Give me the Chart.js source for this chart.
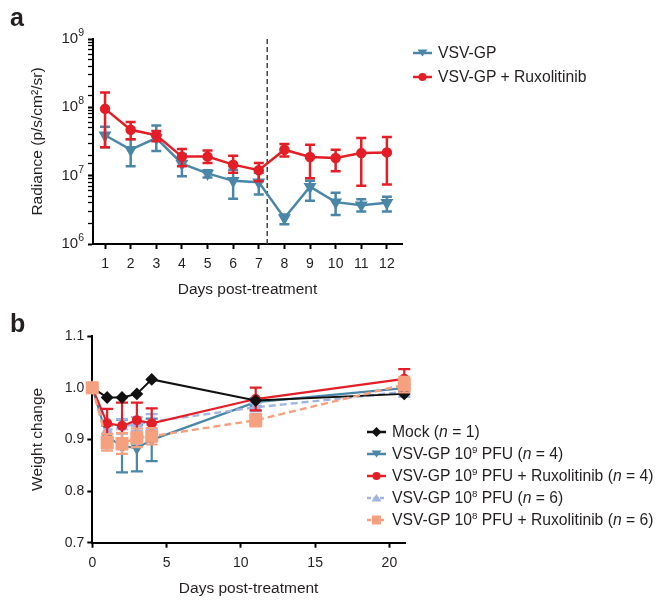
<!DOCTYPE html>
<html>
<head>
<meta charset="utf-8">
<script src="https://cdn.jsdelivr.net/npm/chart.js@4.4.1/dist/chart.umd.min.js"></script>
<style>
  body { margin: 0; background: #fff; font-family: "Liberation Sans", Arial, sans-serif; color: #231f20; }
  #wrap { position: relative; width: 663px; height: 601px; overflow: hidden; }
  canvas { position: absolute; left: 0; }
  .panel { position: absolute; left: 10px; font-weight: bold; font-size: 25px; }
  .legend { position: absolute; font-size: 15.7px; }
  .legend div { white-space: nowrap; display: flex; align-items: center; }
  .legend svg { margin-right: 6px; flex: none; }
  sup { font-size: 0.62em; line-height: 0; vertical-align: 0.62em; }
</style>
</head>
<body>
<div id="wrap">
  <canvas id="chartA" width="420" height="300" style="top:0"></canvas>
  <canvas id="chartB" width="420" height="301" style="top:300px"></canvas>
  <div class="panel" style="top:3px">a</div>
  <div class="panel" style="top:309px">b</div>
  <div class="legend" id="legendA" style="left:413px; top:41px"></div>
  <div class="legend" id="legendB" style="left:367px; top:421px"></div>
</div>
<script>
// ---- panel a : radiance (log scale) ----
const daysA = [1, 2, 3, 4, 5, 6, 7, 8, 9, 10, 11, 12]
const vsvMean = [3.9e7, 2.4e7, 3.55e7, 1.5e7, 1.08e7, 8.4e6, 8.0e6, 2.4e6, 6.9e6, 4.1e6, 3.7e6, 4.0e6]
const vsvLow = [2.6e7, 1.37e7, 2.3e7, 9.8e6, 9.4e6, 4.6e6, 5.3e6, 1.95e6, 4.3e6, 2.65e6, 3.0e6, 3.0e6]
const vsvHigh = [5.2e7, 3.4e7, 5.4e7, 2.05e7, 1.2e7, 1.22e7, 1.1e7, 2.7e6, 8.4e6, 5.6e6, 4.5e6, 4.9e6]
const ruxMean = [9.5e7, 4.7e7, 3.9e7, 1.9e7, 1.9e7, 1.45e7, 1.2e7, 2.4e7, 1.88e7, 1.81e7, 2.14e7, 2.19e7]
const ruxLow = [2.6e7, 3.4e7, 3.2e7, 1.37e7, 1.53e7, 1.1e7, 8.3e6, 1.9e7, 9.2e6, 1.16e7, 7.1e6, 7.4e6]
const ruxHigh = [1.65e8, 6.1e7, 4.5e7, 2.45e7, 2.34e7, 1.95e7, 1.53e7, 2.9e7, 2.84e7, 2.4e7, 3.55e7, 3.67e7]
const ruxStopDay = 7.33 // dashed line
const labelsA = ['VSV-GP', 'VSV-GP + Ruxolitinib']

// ---- panel b : weight change ----
const daysB = [0, 1, 2, 3, 4, 11, 21]
const mockW = [1.0, 0.981, 0.981, 0.988, 1.016, 0.975, 0.988]
const vsv9W = [1.0, 0.905, 0.887, 0.883, 0.899, 0.972, 0.999]
const vsv9Err = [0, 0.022, 0.051, 0.045, 0.041, 0.008, 0.006]
const rux9W = [1.0, 0.931, 0.926, 0.937, 0.931, 0.978, 1.017]
const rux9Err = [0, 0.028, 0.045, 0.034, 0.029, 0.022, 0.019]
const vsv8W = [1.0, 0.917, 0.925, 0.930, 0.934, 0.962, 0.992]
const vsv8Err = [0, 0.012, 0.014, 0.013, 0.015, 0.008, 0.01]
const rux8W = [1.0, 0.894, 0.892, 0.903, 0.906, 0.937, 1.006]
const rux8Err = [0, 0.016, 0.02, 0.018, 0.016, 0.012, 0.015]
const xTicksB = [0, 5, 10, 15, 20]
const yTicksB = [0.7, 0.8, 0.9, 1.0, 1.1]
const labelsB = [
  'Mock (<i>n</i> = 1)',
  'VSV-GP 10<sup>9</sup> PFU (<i>n</i> = 4)',
  'VSV-GP 10<sup>9</sup> PFU + Ruxolitinib (<i>n</i> = 4)',
  'VSV-GP 10<sup>8</sup> PFU (<i>n</i> = 6)',
  'VSV-GP 10<sup>8</sup> PFU + Ruxolitinib (<i>n</i> = 6)'
]

const BLUE = '#4a86a8'
const RED = '#e31e26'
const LIGHTBLUE = '#a2b4e2'
const SALMON = '#f5a07f'
const BLACK = '#111'
const INK = '#231f20'
const FONT = '"Liberation Sans", Arial, sans-serif'

Chart.defaults.font.family = FONT
Chart.defaults.color = INK

const pts = (xs, ys) => xs.map((x, i) => ({ x: x, y: ys[i] }))

// error bars, drawn just under each dataset's own line
const errorBars = {
  id: 'errorBars',
  beforeDatasetDraw(chart, args) {
    const ds = chart.data.datasets[args.index]
    if (!ds.errLow && !ds.err) return
    const ctx = chart.ctx
    const x = chart.scales.x, y = chart.scales.y
    ctx.save()
    ctx.strokeStyle = ds.borderColor
    ctx.lineWidth = ds.errWidth || 2
    ctx.setLineDash([])
    ds.data.forEach((p, i) => {
      const lo = ds.err ? p.y - ds.err[i] : ds.errLow[i]
      const hi = ds.err ? p.y + ds.err[i] : ds.errHigh[i]
      if (hi === lo) return
      const px = x.getPixelForValue(p.x)
      const y1 = y.getPixelForValue(lo), y2 = y.getPixelForValue(hi)
      const w = ds.capHalf || 5
      ctx.beginPath()
      ctx.moveTo(px, y1); ctx.lineTo(px, y2)
      ctx.moveTo(px - w, y1); ctx.lineTo(px + w, y1)
      ctx.moveTo(px - w, y2); ctx.lineTo(px + w, y2)
      ctx.stroke()
    })
    ctx.restore()
  }
}

function decade(v) {
  const e = Math.round(Math.log10(v))
  return Math.abs(v - Math.pow(10, e)) < 1e-6 * v ? e : null
}

// 10^n labels with a real raised exponent on the log axis
const powerLabels = {
  id: 'powerLabels',
  afterDraw(chart) {
    const s = chart.scales.y, ctx = chart.ctx
    ctx.save()
    ctx.fillStyle = INK
    ctx.textBaseline = 'middle'
    s.ticks.forEach(t => {
      const e = decade(t.value)
      if (e === null) return
      const py = s.getPixelForValue(t.value)
      const right = s.right - 9
      ctx.font = '10.5px ' + FONT
      const ew = ctx.measureText(String(e)).width
      ctx.textAlign = 'right'
      ctx.fillText(String(e), right, py - 6)
      ctx.font = '15px ' + FONT
      ctx.fillText('10', right - ew, py)
    })
    ctx.restore()
  }
}

function axis(extra) {
  return Object.assign({
    border: { color: '#000', width: 2 },
    grid: { drawOnChartArea: false, drawTicks: true, tickLength: 5, tickColor: '#000', tickWidth: 2 },
  }, extra)
}

// legend in html so superscripts and italic n stay real text
function swatch(ds) {
  const c = ds.borderColor
  const dash = ds.borderDash ? ' stroke-dasharray="4 2.5"' : ''
  let m = ''
  if (ds.pointStyle == 'circle') m = `<circle cx="9.5" cy="7" r="4" fill="${c}"/>`
  else if (ds.pointStyle == 'triangle' && ds.rotation == 180) m = `<polygon points="4.5,3.5 14.5,3.5 9.5,10.5" fill="${c}"/>`
  else if (ds.pointStyle == 'triangle') m = `<polygon points="4.5,10.5 14.5,10.5 9.5,3" fill="${c}"/>`
  else if (ds.pointStyle == 'rect') m = `<rect x="5" y="2.5" width="9" height="9" fill="${c}"/>`
  else if (ds.pointStyle == 'rectRot') m = `<polygon points="9.5,2 14.5,7 9.5,12 4.5,7" fill="${c}"/>`
  return `<svg width="19" height="14"><line x1="0" y1="7" x2="19" y2="7" stroke="${c}" stroke-width="2.5"${dash}/>${m}</svg>`
}
function htmlLegend(chart, id, rowH, order) {
  const el = document.getElementById(id)
  const list = chart.data.datasets.filter(ds => !ds.noLegend)
  el.innerHTML = list.map(ds => `<div style="height:${rowH}px">${swatch(ds)}<span>${ds.htmlLabel}</span></div>`).join('')
}

// ---------- chart a ----------
const chartA = new Chart(document.getElementById('chartA'), {
  type: 'line',
  data: {
    datasets: [
      {
        label: labelsA[0], htmlLabel: labelsA[0],
        data: pts(daysA, vsvMean), errLow: vsvLow, errHigh: vsvHigh,
        borderColor: BLUE, backgroundColor: BLUE, borderWidth: 2.5, errWidth: 2.5, capHalf: 5,
        pointStyle: 'triangle', rotation: 180, pointRadius: 5, order: 2, clip: false
      },
      {
        label: labelsA[1], htmlLabel: labelsA[1],
        data: pts(daysA, ruxMean), errLow: ruxLow, errHigh: ruxHigh,
        borderColor: RED, backgroundColor: RED, borderWidth: 2.5, errWidth: 2.5, capHalf: 5,
        pointStyle: 'circle', pointRadius: 4, order: 1, clip: false
      },
      {
        label: 'stop', noLegend: true,
        data: [{ x: ruxStopDay, y: 1e6 }, { x: ruxStopDay, y: 1e9 }],
        borderColor: '#444', borderWidth: 1.5, borderDash: [5, 3], pointRadius: 0, order: 3
      }
    ]
  },
  options: {
    responsive: false, animation: false,
    layout: { padding: { left: 28, top: 39, right: 18, bottom: 0 } },
    plugins: { legend: { display: false }, tooltip: { enabled: false } },
    elements: { line: { tension: 0 } },
    scales: {
      x: axis({
        type: 'linear', min: 0.53, max: 12.59,
        afterBuildTicks: s => { s.ticks = daysA.map(v => ({ value: v })) },
        afterFit: s => { s.height = 56 },
        ticks: { font: { size: 14 }, padding: 7 },
        title: { display: true, text: 'Days post-treatment', font: { size: 15.5 }, padding: { top: 0, bottom: 1 } }
      }),
      y: axis({
        type: 'logarithmic', min: 1e6, max: 1e9,
        afterFit: s => { s.width = 65 },
        grid: {
          drawOnChartArea: false, tickColor: '#000',
          tickLength: 5,
          tickWidth: c => (c.tick && decade(c.tick.value) !== null) ? 2 : 1.3
        },
        ticks: { autoSkip: false, font: { size: 14 }, padding: 3, callback: () => '' },
        title: { display: true, text: 'Radiance (p/s/cm²/sr)', font: { size: 15.5 }, padding: { top: 0, bottom: 0 } }
      })
    }
  },
  plugins: [errorBars, powerLabels]
})
htmlLegend(chartA, 'legendA', 24)

// ---------- chart b ----------
const dashed = [7, 4]
const chartB = new Chart(document.getElementById('chartB'), {
  type: 'line',
  data: {
    datasets: [
      {
        label: 'Mock', htmlLabel: labelsB[0], data: pts(daysB, mockW),
        borderColor: BLACK, backgroundColor: BLACK, borderWidth: 2,
        pointStyle: 'rectRot', pointRadius: 5, order: 2, clip: false
      },
      {
        label: 'VSV-GP 1e9', htmlLabel: labelsB[1], data: pts(daysB, vsv9W), err: vsv9Err,
        borderColor: BLUE, backgroundColor: BLUE, borderWidth: 2.2, errWidth: 2.2, capHalf: 6,
        pointStyle: 'triangle', rotation: 180, pointRadius: 5, order: 5, clip: false
      },
      {
        label: 'VSV-GP 1e9 + Rux', htmlLabel: labelsB[2], data: pts(daysB, rux9W), err: rux9Err,
        borderColor: RED, backgroundColor: RED, borderWidth: 2.2, errWidth: 2.2, capHalf: 6,
        pointStyle: 'circle', pointRadius: 4, order: 3, clip: false
      },
      {
        label: 'VSV-GP 1e8', htmlLabel: labelsB[3], data: pts(daysB, vsv8W), err: vsv8Err,
        borderColor: LIGHTBLUE, backgroundColor: LIGHTBLUE, borderWidth: 2.4, borderDash: dashed, errWidth: 2.2, capHalf: 6,
        pointStyle: 'triangle', pointRadius: 5, order: 4, clip: false
      },
      {
        label: 'VSV-GP 1e8 + Rux', htmlLabel: labelsB[4], data: pts(daysB, rux8W), err: rux8Err,
        borderColor: SALMON, backgroundColor: SALMON, borderWidth: 2.4, borderDash: dashed, errWidth: 2.2, capHalf: 6,
        pointStyle: 'rect', pointRadius: 7.5, order: 1, clip: false
      }
    ]
  },
  options: {
    responsive: false, animation: false,
    layout: { padding: { left: 28, top: 36, right: 15, bottom: 0 } },
    plugins: { legend: { display: false }, tooltip: { enabled: false } },
    elements: { line: { tension: 0 } },
    scales: {
      x: axis({
        type: 'linear', min: 0, max: 21.05,
        afterBuildTicks: s => { s.ticks = xTicksB.map(v => ({ value: v })) },
        afterFit: s => { s.height = 58.3 },
        ticks: { font: { size: 14 }, padding: 7 },
        title: { display: true, text: 'Days post-treatment', font: { size: 15.5 }, padding: { top: 0, bottom: 2.7 } }
      }),
      y: axis({
        type: 'linear', min: 0.7, max: 1.1,
        afterBuildTicks: s => { s.ticks = yTicksB.map(v => ({ value: v })) },
        afterFit: s => { s.width = 64.3 },
        ticks: { font: { size: 14 }, padding: 3, callback: v => v.toFixed(1) },
        title: { display: true, text: 'Weight change', font: { size: 15.5 }, padding: { top: 0, bottom: 0 } }
      })
    }
  },
  plugins: [errorBars]
})
htmlLegend(chartB, 'legendB', 22)
</script>
</body>
</html>
